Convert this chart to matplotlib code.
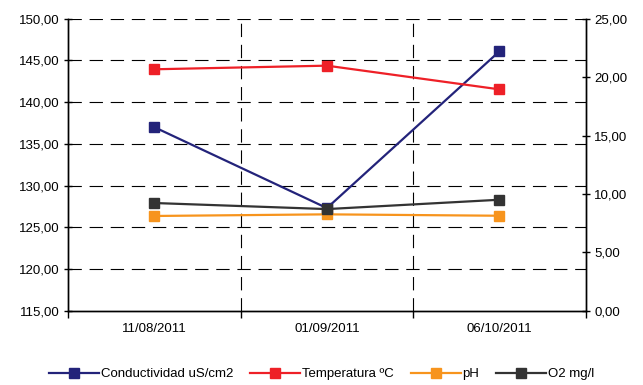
import matplotlib
matplotlib.use("Agg")
import matplotlib.pyplot as plt
from matplotlib.ticker import FixedLocator, FuncFormatter, NullFormatter
from matplotlib.lines import Line2D

plt.rcParams['font.family'] = ['Liberation Sans', 'DejaVu Sans']

fechas = ["11/08/2011", "01/09/2011", "06/10/2011"]
conductividad = [137.0, 127.3, 146.1]   # left axis
temperatura = [20.67, 20.98, 18.95]     # right axis
ph = [8.11, 8.25, 8.13]                 # right axis
o2 = [9.22, 8.70, 9.50]                 # right axis

left_ticks = [115, 120, 125, 130, 135, 140, 145, 150]
right_ticks = [0, 5, 10, 15, 20, 25]

c_cond = "#23237a"
c_temp = "#ee2027"
c_ph = "#f7941d"
c_o2 = "#333333"

fs = 9.5
fmt = FuncFormatter(lambda v, p: f"{v:.2f}".replace(".", ","))

fig = plt.figure(figsize=(6.43, 3.85), dpi=100)
ax = fig.add_axes([0.1058, 0.193, 0.911 - 0.1058, 0.9514 - 0.193])
ax2 = ax.twinx()

x = list(range(len(fechas)))

ax.set_xlim(-0.5, len(fechas) - 0.5)
ax.set_ylim(115, 150)
ax2.set_ylim(0, 25)

dash = (0, (12, 7))
for y in left_ticks[1:]:
    ax.axhline(y, color="black", lw=0.8, ls=dash, zorder=1)
for b in [0.5, 1.5]:
    ax.axvline(b, color="black", lw=0.8, ls=dash, zorder=1)

lw = 1.6
ms = 6.5
ax.plot(x, conductividad, color=c_cond, lw=lw, marker="s", ms=ms, zorder=3)
ax2.plot(x, temperatura, color=c_temp, lw=lw, marker="s", ms=ms, zorder=3)
ax2.plot(x, ph, color=c_ph, lw=lw, marker="s", ms=ms, zorder=3)
ax2.plot(x, o2, color=c_o2, lw=lw, marker="s", ms=ms, zorder=4)

for a in (ax, ax2):
    a.spines["top"].set_visible(False)
    for s in a.spines.values():
        s.set_linewidth(1.0)

ax.yaxis.set_major_locator(FixedLocator(left_ticks))
ax.yaxis.set_major_formatter(fmt)
ax.tick_params(axis="y", direction="inout", length=6, width=1.0, labelsize=fs, pad=3)

ax2.yaxis.set_major_locator(FixedLocator(right_ticks))
ax2.yaxis.set_major_formatter(fmt)
ax2.tick_params(axis="y", direction="inout", length=6, width=1.0, labelsize=fs, pad=3)

ax.xaxis.set_major_locator(FixedLocator([-0.5, 0.5, 1.5, 2.5]))
ax.xaxis.set_major_formatter(NullFormatter())
ax.xaxis.set_minor_locator(FixedLocator(x))
ax.set_xticklabels(fechas, minor=True)
ax.tick_params(axis="x", which="major", direction="out", length=5, width=1.0)
ax.tick_params(axis="x", which="minor", length=0, labelsize=fs, pad=9)

handles = [
    Line2D([], [], color=c_cond, lw=lw, marker="s", ms=ms),
    Line2D([], [], color=c_temp, lw=lw, marker="s", ms=ms),
    Line2D([], [], color=c_ph, lw=lw, marker="s", ms=ms),
    Line2D([], [], color=c_o2, lw=lw, marker="s", ms=ms),
]
labels = ["Conductividad uS/cm2", "Temperatura ºC", "pH", "O2 mg/l"]
fig.legend(handles, labels, loc="center", bbox_to_anchor=(0.5, 1 - 374 / 385),
           ncol=4, frameon=False, fontsize=fs, handlelength=3.8,
           handletextpad=0.1, columnspacing=1.3, borderaxespad=0)

fig.savefig("out.png", dpi=100)
